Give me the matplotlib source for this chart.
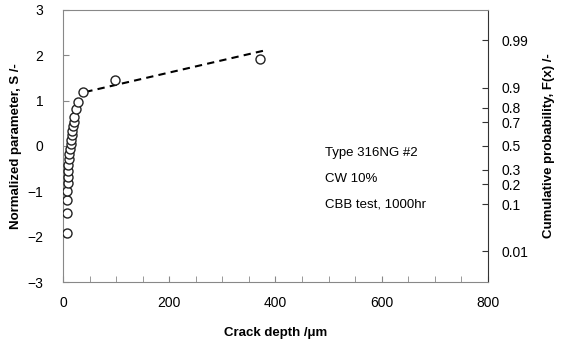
import matplotlib
matplotlib.use('Agg')
import matplotlib.pyplot as plt
from matplotlib.ticker import MultipleLocator
from statistics import NormalDist

plt.rcParams['font.family'] = ['Liberation Sans', 'DejaVu Sans']

# crack depth (um) and normalized parameter S
depth = [7, 7, 7, 7, 9, 9, 10, 10, 11, 12, 13, 14.5, 15, 16, 17.5, 19,
         21, 21, 24.5, 29, 38, 98, 370]
s_val = [-1.92, -1.47, -1.20, -1.00, -0.82, -0.68, -0.55, -0.42, -0.29,
         -0.18, -0.07, 0.04, 0.13, 0.24, 0.34, 0.44, 0.53, 0.64, 0.81,
         0.98, 1.18, 1.45, 1.91]

# dashed fit line end points
fit_x = [42, 385]
fit_s = [1.19, 2.12]

prob_ticks = [0.01, 0.1, 0.2, 0.3, 0.5, 0.7, 0.8, 0.9, 0.99]
prob_labels = ['0.01', '0.1', '0.2', '0.3', '0.5', '0.7', '0.8', '0.9', '0.99']

notes = ['Type 316NG #2', 'CW 10%', 'CBB test, 1000hr']

fig = plt.figure(figsize=(5.68, 3.41), dpi=100)
ax = fig.add_axes([0.111, 0.173, 0.748, 0.798])

ax.plot(fit_x, fit_s, ls=(0, (3.5, 2.5)), color='black', lw=1.5, zorder=2)
ax.plot(depth, s_val, 'o', mfc='white', mec='#222222', mew=1.0, ms=6.5,
        ls='none', zorder=3)

ax.set_xlim(0, 800)
ax.set_ylim(-3, 3)
ax.xaxis.set_major_locator(MultipleLocator(200))
ax.xaxis.set_minor_locator(MultipleLocator(50))
ax.yaxis.set_major_locator(MultipleLocator(1))
ax.tick_params(axis='x', which='both', direction='in', length=4,
               color='#888888', pad=10, labelsize=10)
ax.tick_params(axis='y', which='both', direction='in', length=4,
               color='#888888', pad=14, labelsize=10)
for sp in ax.spines.values():
    sp.set_color('#888888')
ax.spines['right'].set_color('#333333')

ax.set_xlabel('Crack depth /\u03bcm', fontsize=9.5, fontweight='bold',
              labelpad=12)
ax.set_ylabel('Normalized parameter, S /-', fontsize=9.5, fontweight='bold',
              labelpad=4)

ax2 = ax.twinx()
ax2.set_ylim(-3, 3)
nd = NormalDist()
ax2.set_yticks([nd.inv_cdf(p) for p in prob_ticks])
ax2.set_yticklabels(prob_labels)
ax2.tick_params(axis='y', direction='in', length=4, color='#333333',
                pad=10, labelsize=10)
for sp in ax2.spines.values():
    sp.set_visible(False)
ax2.set_ylabel('Cumulative probability, F(x) /-', fontsize=9.5,
               fontweight='bold', labelpad=10)

for i, t in enumerate(notes):
    ax.text(0.617, 0.475 - i * 0.095, t, transform=ax.transAxes,
            fontsize=9.5, va='center', ha='left')

fig.savefig('out.png', dpi=100)
